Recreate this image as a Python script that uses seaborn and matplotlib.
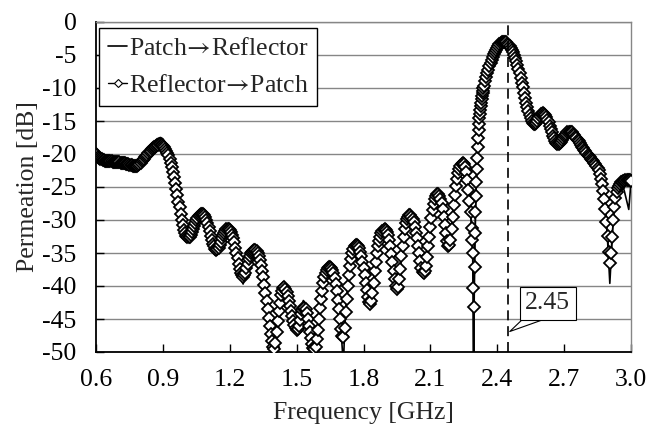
import numpy as np
import pandas as pd
import matplotlib
matplotlib.use("Agg")
import matplotlib.pyplot as plt
import seaborn as sns

# ── data ──────────────────────────────────────────────────────────────────
# Patch -> Reflector: thin line
line_freq_ghz = [
    0.60, 0.61, 0.62, 0.63, 0.64, 0.65, 0.66, 0.67, 0.68, 0.69, 0.70, 0.71, 0.72, 0.73, 0.74, 0.75, 0.76,
    0.77, 0.78, 0.79, 0.80, 0.81, 0.82, 0.83, 0.84, 0.85, 0.86, 0.87, 0.88, 0.89, 0.90, 0.91, 0.92, 0.93,
    0.935, 0.94, 0.945, 0.95, 0.955, 0.96, 0.965, 0.97, 0.975, 0.98, 0.985, 0.99, 0.995, 1.00,
    1.01, 1.02, 1.03, 1.04, 1.05, 1.06, 1.07, 1.08, 1.09, 1.10, 1.11, 1.12, 1.13, 1.14, 1.15, 1.16,
    1.17, 1.18, 1.19, 1.20, 1.21, 1.22,
    1.225, 1.23, 1.235, 1.24, 1.245, 1.25, 1.255, 1.26,
    1.27, 1.28, 1.29, 1.30, 1.31, 1.32, 1.33, 1.34,
    1.345, 1.35, 1.355, 1.36, 1.365, 1.37, 1.375, 1.38, 1.385, 1.39, 1.395, 1.40, 1.405, 1.41, 1.415,
    1.42, 1.425, 1.43,
    1.44, 1.45, 1.46, 1.47, 1.48, 1.49, 1.50, 1.51, 1.52, 1.53, 1.54, 1.55,
    1.555, 1.56, 1.565, 1.57, 1.575, 1.58, 1.585, 1.59, 1.595, 1.60, 1.605, 1.61, 1.615, 1.62,
    1.63, 1.64, 1.65, 1.66, 1.67, 1.68,
    1.685, 1.69, 1.695, 1.70, 1.705, 1.71, 1.715, 1.72, 1.725, 1.73, 1.735, 1.74,
    1.75, 1.76, 1.77, 1.78, 1.79, 1.80,
    1.805, 1.81, 1.815, 1.82, 1.825, 1.83, 1.835, 1.84, 1.845, 1.85, 1.855, 1.86,
    1.87, 1.88, 1.89, 1.90, 1.91, 1.92,
    1.925, 1.93, 1.935, 1.94, 1.945, 1.95, 1.955, 1.96, 1.965, 1.97, 1.975, 1.98,
    1.99, 2.00, 2.01, 2.02, 2.03, 2.04,
    2.045, 2.05, 2.055, 2.06, 2.065, 2.07, 2.075, 2.08, 2.085, 2.09, 2.095, 2.10, 2.105, 2.11,
    2.12, 2.13, 2.14, 2.15, 2.16,
    2.165, 2.17, 2.175, 2.18, 2.185, 2.19, 2.195, 2.20, 2.205, 2.21, 2.215, 2.22,
    2.23, 2.24, 2.25, 2.26,
    2.265, 2.27, 2.275, 2.28, 2.285, 2.288, 2.290, 2.292, 2.294, 2.296, 2.298, 2.300, 2.303, 2.306,
    2.310, 2.315, 2.320, 2.325, 2.330, 2.335, 2.340,
    2.35, 2.36, 2.37, 2.38, 2.39, 2.40, 2.41, 2.42, 2.43, 2.44,
    2.45, 2.46, 2.47, 2.48, 2.49, 2.50, 2.51, 2.52, 2.53, 2.54,
    2.55, 2.56, 2.57, 2.58, 2.59, 2.60, 2.61, 2.62, 2.63, 2.64,
    2.65, 2.66, 2.67, 2.68, 2.69, 2.70, 2.71, 2.72, 2.73, 2.74,
    2.75, 2.76, 2.77, 2.78, 2.79, 2.80, 2.81, 2.82, 2.83, 2.84,
    2.85, 2.86,
    2.865, 2.87, 2.875, 2.88, 2.885, 2.89, 2.895, 2.90, 2.905, 2.91, 2.915, 2.92, 2.925, 2.93,
    2.94, 2.95, 2.96, 2.97, 2.98, 2.99, 3.00,
]
p2r_db = [
    -20.0, -20.4, -20.7, -20.9, -21.0, -21.0, -21.1, -21.1, -21.2, -21.2, -21.2, -21.3, -21.3, -21.4, -21.5, -21.6, -21.7,
    -21.8, -21.8, -21.6, -21.3, -20.9, -20.4, -19.9, -19.3, -18.8, -18.3, -17.9, -17.6, -17.5, -17.7, -18.2, -19.0, -20.0,
    -20.6, -21.2, -22.0, -22.9, -23.9, -24.9, -25.9, -27.0, -28.0, -29.0, -30.0, -30.8, -31.5, -32.0,
    -32.6, -32.5, -31.8, -30.9, -30.0, -29.4, -29.1, -29.1, -29.6, -30.5, -31.7, -33.0, -34.0, -34.5, -34.2, -33.3,
    -32.3, -31.6, -31.3, -31.5, -32.2, -33.4,
    -34.2, -35.0, -35.9, -36.8, -37.7, -38.5, -39.3, -39.7,
    -38.4, -36.7, -35.4, -34.8, -34.6, -34.7, -35.4, -36.8,
    -37.7, -38.7, -39.8, -41.0, -42.2, -43.5, -44.8, -46.0, -47.3, -48.6, -49.7, -50.3, -48.9, -47.0, -45.3,
    -43.8, -42.5, -41.4,
    -40.2, -40.3, -41.4, -43.0, -44.6, -46.0, -46.8, -45.8, -43.6, -42.2, -42.6, -44.5,
    -45.6, -46.8, -47.8, -48.8, -49.5, -49.8, -49.3, -48.0, -46.6, -45.0, -43.4, -42.0, -40.7, -39.6,
    -38.0, -37.3, -37.1, -37.5, -38.8, -40.8,
    -42.1, -43.5, -45.2, -47.2, -49.5, -52.0, -47.0, -44.0, -42.0, -40.0, -38.3, -37.0,
    -35.0, -34.0, -33.8, -34.2, -35.5, -37.3,
    -38.4, -39.5, -40.7, -41.9, -42.9, -43.5, -42.6, -41.0, -39.5, -37.8, -36.3, -35.0,
    -33.2, -32.0, -31.5, -31.5, -32.3, -34.0,
    -35.2, -36.4, -37.8, -39.1, -40.3, -40.9, -40.4, -39.0, -37.4, -35.5, -33.9, -32.5,
    -30.5, -29.5, -29.3, -29.8, -31.0, -32.8,
    -33.9, -35.0, -36.2, -37.2, -38.1, -38.4, -37.9, -37.0, -35.6, -34.0, -32.5, -31.0, -29.7, -28.5,
    -26.8, -26.1, -26.3, -27.5, -29.5,
    -30.8, -32.0, -33.3, -34.3, -34.0, -33.0, -31.3, -29.5, -27.8, -26.2, -24.9, -23.8,
    -22.3, -21.5, -21.5, -22.8,
    -24.0, -25.5, -27.1, -28.8, -31.2, -33.2, -35.8, -42.0, -60.0, -44.0, -37.5, -33.2, -29.0, -24.5,
    -20.5, -16.5, -14.0, -12.5, -11.3, -10.4, -9.7,
    -8.4, -7.2, -6.2, -5.3, -4.5, -3.9, -3.4, -3.1, -3.0, -3.1,
    -3.5, -4.0, -4.6, -5.4, -6.5, -7.8, -9.2, -10.7, -12.2, -13.5,
    -14.6, -15.3, -15.5, -15.0, -14.3, -13.9, -13.9, -14.4, -15.2, -16.2,
    -17.2, -18.0, -18.5, -18.4, -17.9, -17.3, -16.9, -16.6, -16.6, -16.9,
    -17.4, -17.9, -18.4, -18.9, -19.4, -19.9, -20.3, -20.7, -21.1, -21.5,
    -22.1, -23.0,
    -23.8, -24.6, -25.6, -26.8, -28.5, -30.6, -33.2, -36.5, -39.6, -36.4, -33.0, -30.2, -28.1, -26.6,
    -25.0, -24.3, -24.6, -25.6, -27.0, -28.4, -24.2,
]

# Reflector -> Patch: densely sampled diamonds
diamond_freq_ghz = [
    0.600, 0.605, 0.610, 0.615, 0.620, 0.625, 0.630, 0.635, 0.640, 0.645, 0.650, 0.655, 0.660, 0.665, 0.670, 0.675, 0.680, 0.685, 0.690, 0.695,
    0.700, 0.705, 0.710, 0.715, 0.720, 0.725, 0.730, 0.735, 0.740, 0.745, 0.750, 0.755, 0.760, 0.765, 0.770, 0.775, 0.780, 0.785, 0.790, 0.795,
    0.800, 0.805, 0.810, 0.815, 0.820, 0.825, 0.830, 0.835, 0.840, 0.845, 0.850, 0.855, 0.860, 0.865, 0.870, 0.875, 0.880, 0.885, 0.890, 0.895,
    0.900, 0.905, 0.910, 0.915, 0.920, 0.925, 0.930, 0.935, 0.940, 0.945, 0.950, 0.955, 0.960, 0.965, 0.970, 0.975, 0.980, 0.985, 0.990, 0.995,
    1.000, 1.005, 1.010, 1.015, 1.020, 1.025, 1.030, 1.035, 1.040, 1.045, 1.050, 1.055, 1.060, 1.065, 1.070, 1.075, 1.080, 1.085, 1.090, 1.095,
    1.100, 1.105, 1.110, 1.115, 1.120, 1.125, 1.130, 1.135, 1.140, 1.145, 1.150, 1.155, 1.160, 1.165, 1.170, 1.175, 1.180, 1.185, 1.190, 1.195,
    1.200, 1.205, 1.210, 1.215, 1.220, 1.225, 1.230, 1.235, 1.240, 1.245, 1.250, 1.255, 1.260, 1.265, 1.270, 1.275, 1.280, 1.285, 1.290, 1.295,
    1.300, 1.305, 1.310, 1.315, 1.320, 1.325, 1.330, 1.335, 1.340, 1.345, 1.350, 1.355, 1.360, 1.365, 1.370, 1.375, 1.380, 1.385, 1.390, 1.395,
    1.400, 1.405, 1.410, 1.415, 1.420, 1.425, 1.430, 1.435, 1.440, 1.445, 1.450, 1.455, 1.460, 1.465, 1.470, 1.475, 1.480, 1.485, 1.490, 1.495,
    1.500, 1.505, 1.510, 1.515, 1.520, 1.525, 1.530, 1.535, 1.540, 1.545, 1.550, 1.555, 1.560, 1.565, 1.570, 1.575, 1.580, 1.585, 1.590, 1.595,
    1.600, 1.605, 1.610, 1.615, 1.620, 1.625, 1.630, 1.635, 1.640, 1.645, 1.650, 1.655, 1.660, 1.665, 1.670, 1.675, 1.680, 1.685, 1.690, 1.695,
    1.700, 1.705, 1.710, 1.715, 1.720, 1.725, 1.730, 1.735, 1.740, 1.745, 1.750, 1.755, 1.760, 1.765, 1.770, 1.775, 1.780, 1.785, 1.790, 1.795,
    1.800, 1.805, 1.810, 1.815, 1.820, 1.825, 1.830, 1.835, 1.840, 1.845, 1.850, 1.855, 1.860, 1.865, 1.870, 1.875, 1.880, 1.885, 1.890, 1.895,
    1.900, 1.905, 1.910, 1.915, 1.920, 1.925, 1.930, 1.935, 1.940, 1.945, 1.950, 1.955, 1.960, 1.965, 1.970, 1.975, 1.980, 1.985, 1.990, 1.995,
    2.000, 2.005, 2.010, 2.015, 2.020, 2.025, 2.030, 2.035, 2.040, 2.045, 2.050, 2.055, 2.060, 2.065, 2.070, 2.075, 2.080, 2.085, 2.090, 2.095,
    2.100, 2.105, 2.110, 2.115, 2.120, 2.125, 2.130, 2.135, 2.140, 2.145, 2.150, 2.155, 2.160, 2.165, 2.170, 2.175, 2.180, 2.185, 2.190, 2.195,
    2.200, 2.205, 2.210, 2.215, 2.220, 2.225, 2.230, 2.235, 2.240, 2.245, 2.250, 2.255, 2.260, 2.265, 2.270, 2.275, 2.280,
    2.285, 2.288, 2.290, 2.292, 2.294, 2.296, 2.298,
    2.300, 2.302, 2.304, 2.306, 2.308, 2.310, 2.312, 2.314, 2.316, 2.318, 2.320, 2.322, 2.324, 2.326, 2.328, 2.330, 2.332, 2.334, 2.336, 2.338, 2.340,
    2.345, 2.350, 2.355, 2.360, 2.365, 2.370, 2.375, 2.380, 2.385, 2.390, 2.395,
    2.400, 2.405, 2.410, 2.415, 2.420, 2.425, 2.430, 2.435, 2.440, 2.445, 2.450, 2.455, 2.460, 2.465, 2.470, 2.475, 2.480, 2.485, 2.490, 2.495,
    2.500, 2.505, 2.510, 2.515, 2.520, 2.525, 2.530, 2.535, 2.540, 2.545, 2.550, 2.555, 2.560, 2.565, 2.570, 2.575, 2.580, 2.585, 2.590, 2.595,
    2.600, 2.605, 2.610, 2.615, 2.620, 2.625, 2.630, 2.635, 2.640, 2.645, 2.650, 2.655, 2.660, 2.665, 2.670, 2.675, 2.680, 2.685, 2.690, 2.695,
    2.700, 2.705, 2.710, 2.715, 2.720, 2.725, 2.730, 2.735, 2.740, 2.745, 2.750, 2.755, 2.760, 2.765, 2.770, 2.775, 2.780, 2.785, 2.790, 2.795,
    2.800, 2.805, 2.810, 2.815, 2.820, 2.825, 2.830, 2.835, 2.840, 2.845, 2.850, 2.855, 2.860, 2.865, 2.870, 2.875, 2.880, 2.885, 2.890, 2.895,
    2.900, 2.905, 2.910, 2.915, 2.920, 2.925, 2.930, 2.935, 2.940, 2.945, 2.950, 2.955, 2.960, 2.965, 2.970, 2.975, 2.980, 2.985, 2.990, 2.995,
    3.000,
]
r2p_db = [
    -20.0, -20.2, -20.4, -20.55, -20.7, -20.8, -20.9, -20.95, -21.0, -21.0, -21.0, -21.05, -21.1, -21.1, -21.1, -21.15, -21.2, -21.2, -21.2, -21.2,
    -21.2, -21.25, -21.3, -21.3, -21.3, -21.35, -21.4, -21.45, -21.5, -21.55, -21.6, -21.65, -21.7, -21.75, -21.8, -21.8, -21.8, -21.75, -21.6, -21.45,
    -21.3, -21.1, -20.9, -20.7, -20.5, -20.3, -20.1, -19.9, -19.7, -19.5, -19.3, -19.15, -19.0, -18.9, -18.8, -18.7, -18.6, -18.55, -18.6, -18.7,
    -18.8, -19.0, -19.2, -19.5, -19.8, -20.2, -20.7, -21.3, -21.9, -22.7, -23.5, -24.4, -25.3, -26.2, -27.2, -28.1, -29.1, -30.0, -30.8, -31.5,
    -32.0, -32.4, -32.6, -32.6, -32.5, -32.2, -31.8, -31.35, -30.9, -30.45, -30.0, -29.7, -29.4, -29.2, -29.1, -29.05, -29.1, -29.3, -29.6, -30.0,
    -30.5, -31.1, -31.7, -32.4, -33.0, -33.6, -34.0, -34.4, -34.5, -34.4, -34.2, -33.8, -33.3, -32.8, -32.3, -31.9, -31.6, -31.4, -31.3, -31.35,
    -31.5, -31.8, -32.2, -32.8, -33.4, -34.2, -35.0, -35.8, -36.7, -37.4, -38.0, -38.4, -38.6, -38.4, -38.0, -37.3, -36.6, -35.9, -35.4, -35.0,
    -34.8, -34.7, -34.6, -34.6, -34.7, -35.0, -35.4, -36.0, -36.8, -37.7, -38.7, -39.8, -41.0, -42.2, -43.5, -44.8, -46.0, -47.2, -48.3, -49.2,
    -49.5, -48.6, -47.0, -45.3, -43.8, -42.5, -41.4, -40.7, -40.3, -40.2, -40.4, -40.9, -41.5, -42.2, -43.0, -43.8, -44.6, -45.3, -45.9, -46.4,
    -46.6, -46.5, -46.0, -45.2, -44.3, -43.6, -43.3, -43.3, -43.5, -44.1, -45.0, -46.0, -47.0, -47.9, -48.8, -49.4, -49.6, -49.2, -48.0, -46.6,
    -45.0, -43.4, -42.0, -40.7, -39.6, -38.7, -38.0, -37.6, -37.3, -37.1, -37.1, -37.2, -37.5, -38.1, -38.8, -39.7, -40.8, -42.1, -43.5, -45.0,
    -46.5, -47.5, -47.8, -46.3, -44.0, -42.0, -40.0, -38.3, -37.0, -35.9, -35.0, -34.4, -34.0, -33.8, -33.8, -33.9, -34.2, -34.8, -35.5, -36.3,
    -37.3, -38.4, -39.5, -40.6, -41.6, -42.4, -42.7, -42.2, -41.0, -39.5, -37.8, -36.3, -35.0, -34.0, -33.2, -32.5, -32.0, -31.7, -31.5, -31.4,
    -31.5, -31.8, -32.3, -33.1, -34.0, -35.2, -36.4, -37.8, -39.0, -40.0, -40.5, -40.2, -39.0, -37.4, -35.5, -33.9, -32.5, -31.4, -30.5, -29.9,
    -29.5, -29.3, -29.3, -29.5, -29.8, -30.3, -31.0, -31.9, -32.8, -33.9, -35.0, -36.2, -37.2, -37.9, -38.1, -37.8, -37.0, -35.6, -34.0, -32.5,
    -31.0, -29.7, -28.5, -27.6, -26.8, -26.3, -26.1, -26.1, -26.3, -26.8, -27.5, -28.4, -29.5, -30.8, -32.0, -33.2, -34.0, -33.8, -33.0, -31.3,
    -29.5, -27.8, -26.2, -24.9, -23.8, -22.9, -22.3, -21.8, -21.5, -21.4, -21.5, -22.0, -22.8, -24.0, -25.5, -27.1, -28.8,
    -31.2, -33.0, -35.0, -40.3, -56.0, -43.2, -37.1,
    -32.0, -28.8, -26.3, -24.2, -22.3, -20.6, -19.0, -17.6, -16.4, -15.4, -14.6, -13.9, -13.3, -12.7, -12.2, -11.7, -11.2, -10.8, -10.4, -10.0, -9.7,
    -9.0, -8.4, -7.8, -7.2, -6.7, -6.2, -5.7, -5.3, -4.9, -4.5, -4.2,
    -3.9, -3.6, -3.4, -3.2, -3.1, -3.0, -3.0, -3.0, -3.1, -3.3, -3.5, -3.7, -4.0, -4.3, -4.6, -5.0, -5.4, -5.9, -6.5, -7.1,
    -7.8, -8.5, -9.2, -9.9, -10.7, -11.5, -12.2, -12.9, -13.5, -14.1, -14.6, -15.0, -15.3, -15.5, -15.5, -15.3, -15.0, -14.6, -14.3, -14.0,
    -13.9, -13.8, -13.9, -14.1, -14.4, -14.8, -15.2, -15.7, -16.2, -16.7, -17.2, -17.6, -18.0, -18.3, -18.5, -18.5, -18.4, -18.2, -17.9, -17.6,
    -17.3, -17.1, -16.9, -16.7, -16.6, -16.6, -16.6, -16.7, -16.9, -17.1, -17.4, -17.6, -17.9, -18.1, -18.4, -18.6, -18.9, -19.1, -19.4, -19.6,
    -19.9, -20.1, -20.3, -20.5, -20.7, -20.9, -21.1, -21.3, -21.5, -21.8, -22.1, -22.5, -23.0, -23.8, -24.6, -25.6, -26.8, -28.4, -30.3, -32.4,
    -34.8, -36.5, -35.0, -32.5, -30.0, -28.0, -26.6, -25.8, -25.2, -24.8, -24.5, -24.3, -24.2, -24.1, -24.1, -24.0, -24.0, -24.0, -24.0, -24.0,
    -24.1,
]

assert len(line_freq_ghz) == len(p2r_db)
assert len(diamond_freq_ghz) == len(r2p_db)

x_ticks = [0.6, 0.9, 1.2, 1.5, 1.8, 2.1, 2.4, 2.7, 3.0]
y_ticks = [0, -5, -10, -15, -20, -25, -30, -35, -40, -45, -50]
marker_freq = 2.45
marker_label = "2.45"

line_df = pd.DataFrame({"freq": line_freq_ghz, "db": p2r_db})
diamond_df = pd.DataFrame({"freq": diamond_freq_ghz, "db": r2p_db})

# ── style ──────────────────────────────────────────────────────────────────
sns.set_theme(style="white")
plt.rcParams["font.family"] = ["Liberation Serif", "DejaVu Serif"]
plt.rcParams["mathtext.fontset"] = "stix"
plt.rcParams["font.size"] = 18.5
plt.rcParams["axes.unicode_minus"] = False

FS = 18.5
GRID = "#868686"

fig = plt.figure(figsize=(6.56, 4.29), dpi=100)
ax = fig.add_axes([96 / 656, 1 - 352 / 429, 535 / 656, 330 / 429])

sns.lineplot(data=line_df, x="freq", y="db", ax=ax, color="black", lw=1.2,
             sort=False, estimator=None, label=r"Patch$\!\rightarrow\!$Reflector", zorder=3)
sns.lineplot(data=diamond_df, x="freq", y="db", ax=ax, color="black", lw=1.0,
             marker="D", markersize=6.3, markerfacecolor="white",
             markeredgecolor="black", markeredgewidth=1.3,
             sort=False, estimator=None, label=r"Reflector$\!\rightarrow\!$Patch", zorder=4)

ax.axvline(marker_freq, color="black", lw=1.2, ls=(0, (6, 3.5)), zorder=5)

ax.annotate(marker_label, xy=(marker_freq + 0.006, -46.9), xytext=(2.627, -42.6),
            ha="center", va="center", fontsize=FS, zorder=6,
            bbox=dict(boxstyle="square,pad=0.22", fc="white", ec="black", lw=0.8),
            arrowprops=dict(arrowstyle="wedge,tail_width=0.55", fc="white",
                            ec="black", lw=0.8, relpos=(0.28, 0.0),
                            patchA=None, shrinkA=0, shrinkB=0))

# ── axes ───────────────────────────────────────────────────────────────────
ax.set_xlim(0.6, 3.0)
ax.set_ylim(-50, 0)
ax.set_xticks(x_ticks)
ax.set_xticklabels([f"{v:.1f}" for v in x_ticks])
ax.set_yticks(y_ticks)
ax.set_yticklabels([str(v) for v in y_ticks])
ax.tick_params(axis="both", direction="in", length=6, width=1, colors="black",
               labelsize=FS)
ax.tick_params(axis="x", pad=12, bottom=True)
ax.tick_params(axis="y", pad=14, left=True)
ax.yaxis.grid(True, color=GRID, lw=1.0)
ax.xaxis.grid(False)
ax.set_axisbelow(True)

for side in ["left", "bottom"]:
    ax.spines[side].set_color("black")
    ax.spines[side].set_linewidth(1.3)
for side in ["top", "right"]:
    ax.spines[side].set_color(GRID)
    ax.spines[side].set_linewidth(1.0)

ax.set_xlabel("Frequency [GHz]", fontsize=FS, va="center")
ax.xaxis.set_label_coords(0.5, -0.185)
ax.set_ylabel("Permeation [dB]", fontsize=FS, va="center")
ax.yaxis.set_label_coords(-0.128, 0.5)

leg = ax.legend(loc="upper left", bbox_to_anchor=(0.0056, 0.982), borderaxespad=0,
                frameon=True, fancybox=False, framealpha=1, edgecolor="black",
                fontsize=FS, handlelength=0.75, handletextpad=0.05,
                borderpad=0.35, labelspacing=0.55)
leg.get_frame().set_linewidth(1.0)
leg.legend_handles[1].set_markersize(3.8)
leg.legend_handles[1].set_markeredgewidth(0.8)
leg.set_zorder(10)

fig.savefig("out.png", dpi=100)
plt.close(fig)
